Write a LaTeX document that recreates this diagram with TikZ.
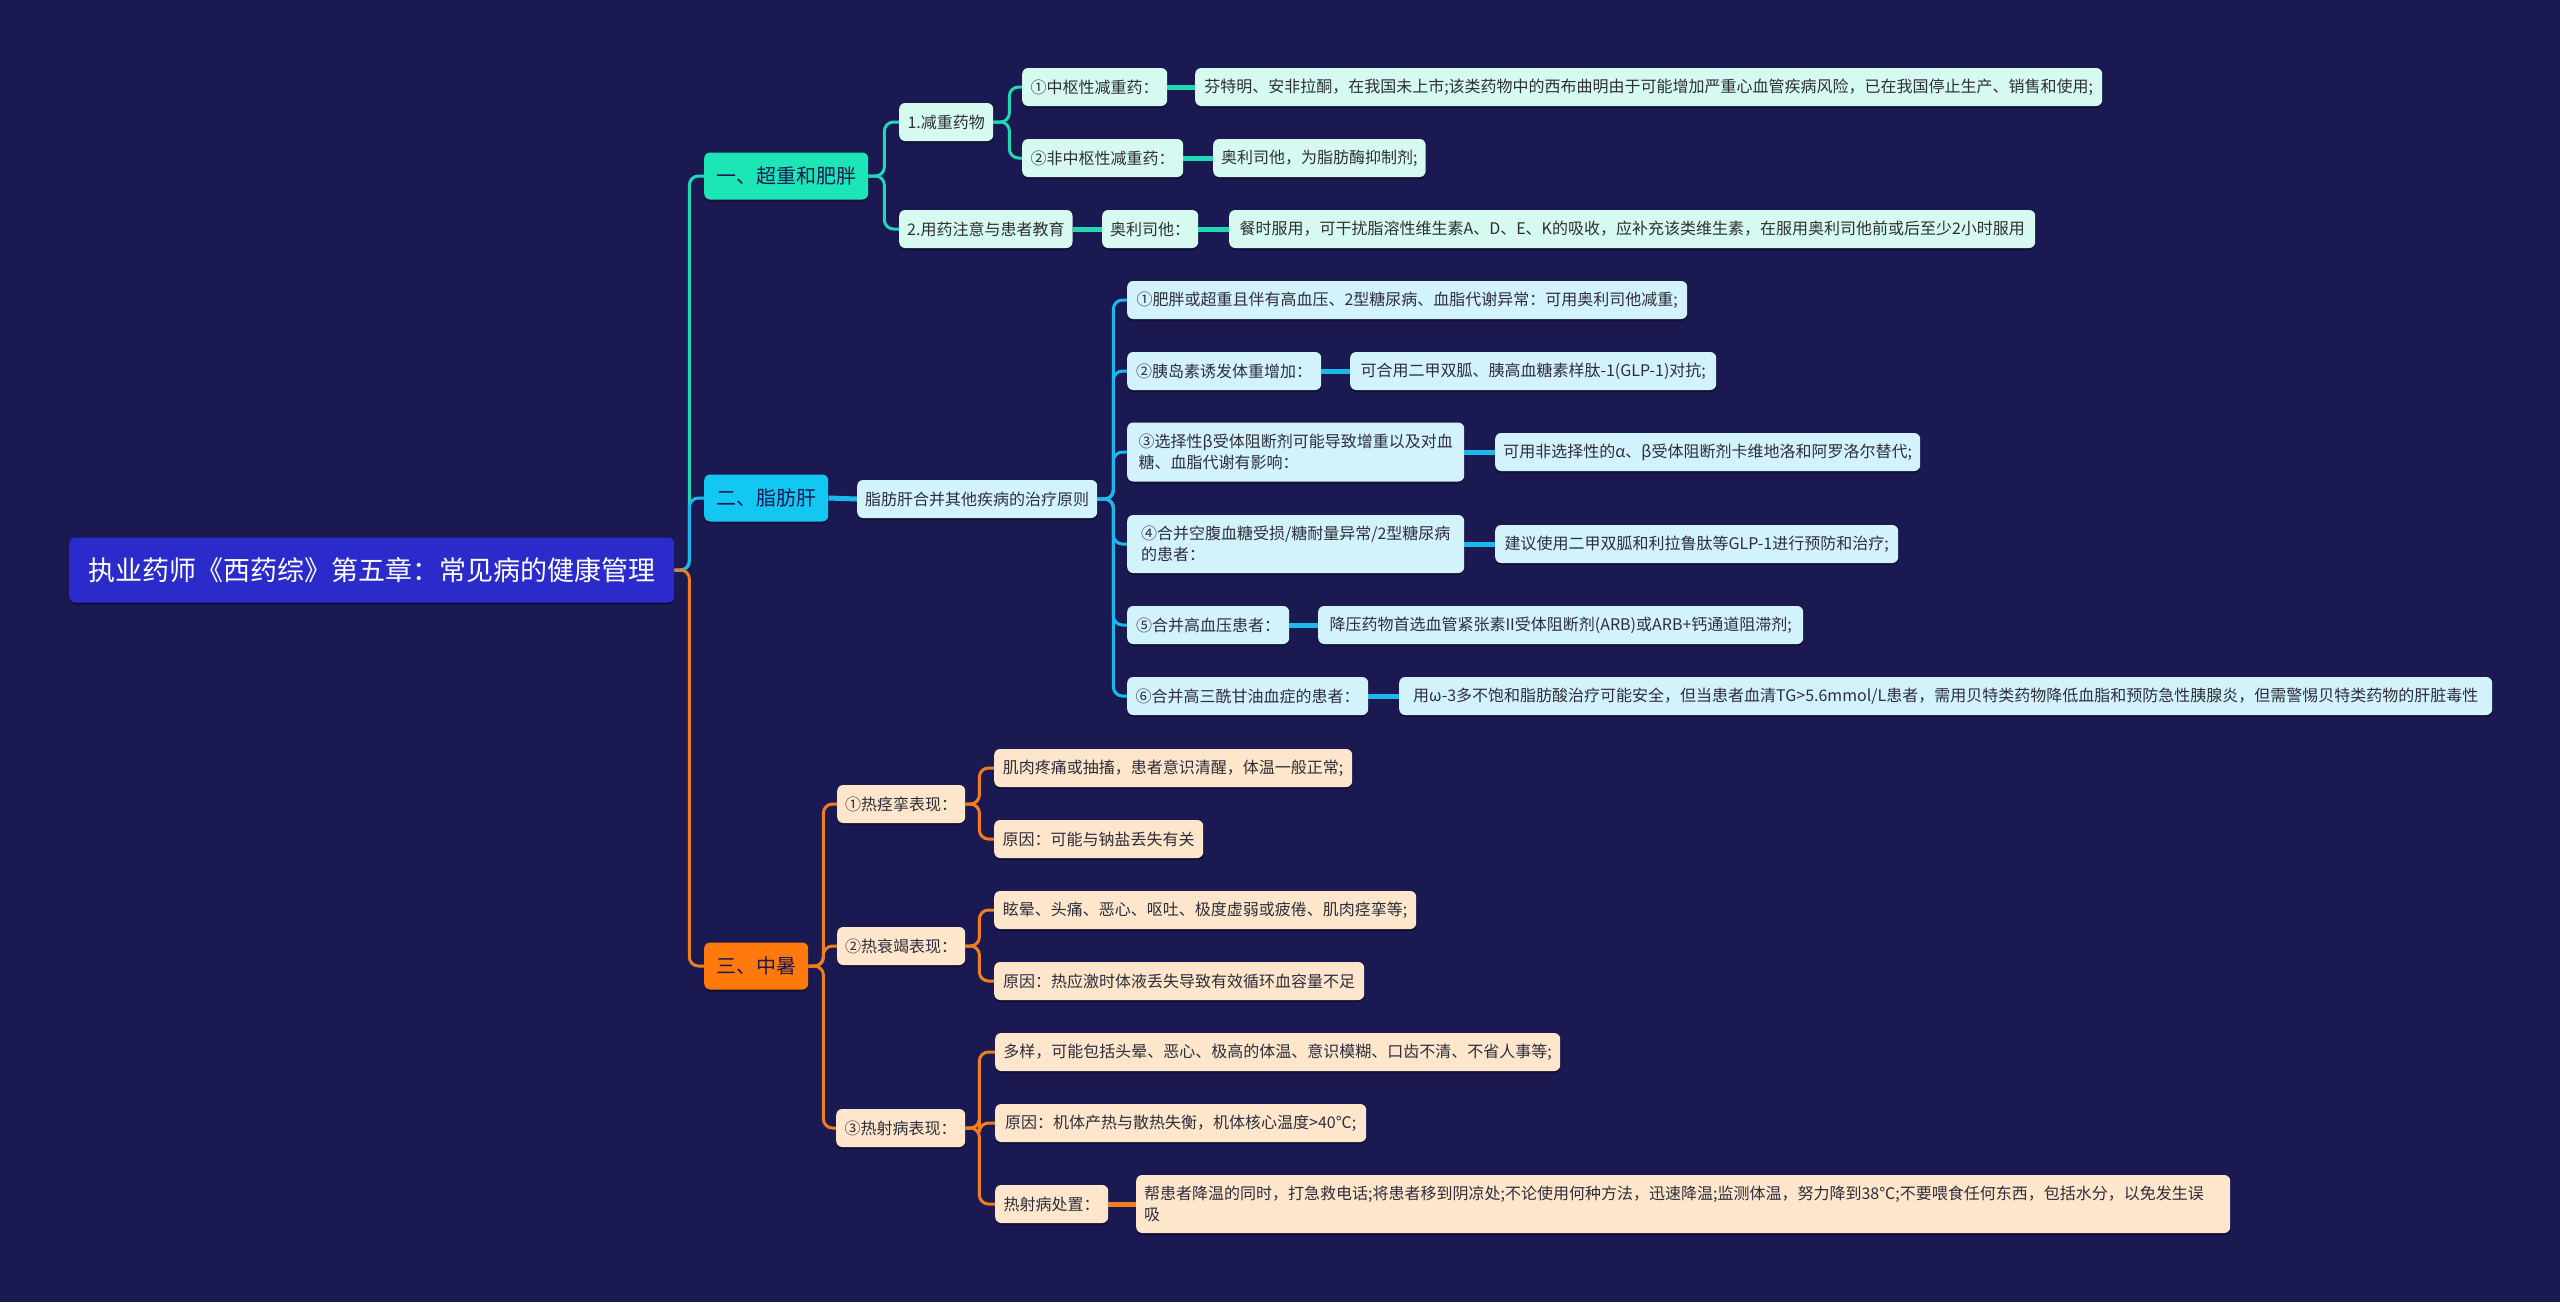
\documentclass[tikz,border=0pt]{standalone}
\usepackage{fontspec}
\setmainfont{Noto Sans CJK SC}
\usetikzlibrary{shadows}
\pgfdeclarelayer{bgl}
\pgfdeclarelayer{lines}
\pgfsetlayers{bgl,lines,main}
\definecolor{bg}{HTML}{1A1952}
\definecolor{rootc}{HTML}{2B2BCB}
\definecolor{tealc}{HTML}{1DE6B6}
\definecolor{tealln}{HTML}{22D8B4}
\definecolor{tealleaf}{HTML}{D6FAF0}
\definecolor{cyanc}{HTML}{12C7F2}
\definecolor{cyanln}{HTML}{1BB8EC}
\definecolor{cyanleaf}{HTML}{D3F3FC}
\definecolor{orc}{HTML}{FF7A0C}
\definecolor{orln}{HTML}{F07D1E}
\definecolor{orleaf}{HTML}{FDE6CC}
\definecolor{txt}{HTML}{2E2E3A}
\tikzset{
  basebox/.style={rounded corners=6pt, inner xsep=8pt, inner ysep=0pt, anchor=west,
    general shadow={fill=black, opacity=0.35, shadow yshift=-2pt}},
  rootbox/.style={basebox, fill=rootc, text=white, minimum height=65pt, font=\fontsize{27}{32}\selectfont},
  mainbox/.style={basebox, minimum height=47pt, font=\fontsize{20}{24}\selectfont},
  leaf/.style={basebox, minimum height=38pt, text=txt, align=left, font=\fontsize{16}{21}\selectfont},
  leafA/.style={leaf, fill=tealleaf},
  leafB/.style={leaf, fill=cyanleaf},
  leafC/.style={leaf, fill=orleaf},
  ln/.style={line width=3pt, rounded corners=9pt},
  lnA/.style={ln, draw=tealln},
  lnB/.style={ln, draw=cyanln},
  lnC/.style={ln, draw=orln},
  lnAs/.style={lnA, line width=5pt},
  lnBs/.style={lnB, line width=5pt},
  lnCs/.style={lnC, line width=5pt},
}
\begin{document}
\begin{tikzpicture}[x=1pt,y=-1pt]
\begin{pgfonlayer}{bgl}
\fill[bg] (0,0) rectangle (2560,1302);
\end{pgfonlayer}
\useasboundingbox (0,0) rectangle (2560,1302);

% root and main topics
\node[rootbox, minimum width=605pt] (root) at (69,570) {执业药师《西药综》第五章：常见病的健康管理};
\node[mainbox, fill=tealc, text=bg, minimum width=164pt] (A) at (704,176) {一、超重和肥胖};
\node[mainbox, fill=cyanc, text=bg, minimum width=124pt] (B) at (704,498) {二、脂肪肝};
\node[mainbox, fill=orc, text=bg, minimum width=104pt] (C) at (704,966) {三、中暑};

% branch A
\node[leafA, minimum width=94pt] (a1) at (899,122) {1.减重药物};
\node[leafA, minimum width=173pt] (a2) at (899,229) {2.用药注意与患者教育};
\node[leafA, minimum width=145pt] (a11) at (1022,87) {①中枢性减重药：};
\node[leafA, minimum width=161pt] (a12) at (1022,158) {②非中枢性减重药：};
\node[leafA, minimum width=96pt] (a21) at (1102,229) {奥利司他：};
\node[leafA, minimum width=907pt] (a111) at (1195,87) {芬特明、安非拉酮，在我国未上市;该类药物中的西布曲明由于可能增加严重心血管疾病风险，已在我国停止生产、销售和使用;};
\node[leafA, minimum width=212pt] (a121) at (1213,158) {奥利司他，为脂肪酶抑制剂;};
\node[leafA, minimum width=806pt] (a211) at (1229,229) {餐时服用，可干扰脂溶性维生素A、D、E、K的吸收，应补充该类维生素，在服用奥利司他前或后至少2小时服用};

% branch B
\node[leafB, minimum width=240pt] (b1) at (857,499) {脂肪肝合并其他疾病的治疗原则};
\node[leafB, minimum width=560pt] (b11) at (1127,300) {①肥胖或超重且伴有高血压、2型糖尿病、血脂代谢异常：可用奥利司他减重;};
\node[leafB, minimum width=194pt] (b12) at (1127,371) {②胰岛素诱发体重增加：};
\node[leafB, minimum width=366pt] (b121) at (1350,371) {可合用二甲双胍、胰高血糖素样肽-1(GLP-1)对抗;};
\node[leafB, minimum width=337pt, minimum height=59pt] (b13) at (1127,452) {③选择性β受体阻断剂可能导致增重以及对血\\糖、血脂代谢有影响：};
\node[leafB, minimum width=425pt] (b131) at (1495,452) {可用非选择性的α、β受体阻断剂卡维地洛和阿罗洛尔替代;};
\node[leafB, minimum width=337pt, minimum height=58pt] (b14) at (1127,544) {④合并空腹血糖受损/糖耐量异常/2型糖尿病\\的患者：};
\node[leafB, minimum width=403pt] (b141) at (1495,544) {建议使用二甲双胍和利拉鲁肽等GLP-1进行预防和治疗;};
\node[leafB, minimum width=162pt] (b15) at (1127,625) {⑤合并高血压患者：};
\node[leafB, minimum width=485pt] (b151) at (1318,625) {降压药物首选血管紧张素II受体阻断剂(ARB)或ARB+钙通道阻滞剂;};
\node[leafB, minimum width=241pt] (b16) at (1127,696) {⑥合并高三酰甘油血症的患者：};
\node[leafB, minimum width=1093pt] (b161) at (1399,696) {用ω-3多不饱和脂肪酸治疗可能安全，但当患者血清TG>5.6mmol/L患者，需用贝特类药物降低血脂和预防急性胰腺炎，但需警惕贝特类药物的肝脏毒性};

% branch C
\node[leafC, minimum width=128pt] (c1) at (837,804) {①热痉挛表现：};
\node[leafC, minimum width=358pt] (c11) at (994,768) {肌肉疼痛或抽搐，患者意识清醒，体温一般正常;};
\node[leafC, minimum width=209pt] (c12) at (994,839) {原因：可能与钠盐丢失有关};
\node[leafC, minimum width=128pt] (c2) at (837,946) {②热衰竭表现：};
\node[leafC, minimum width=422pt] (c21) at (994,910) {眩晕、头痛、恶心、呕吐、极度虚弱或疲倦、肌肉痉挛等;};
\node[leafC, minimum width=370pt] (c22) at (994,981) {原因：热应激时体液丢失导致有效循环血容量不足};
\node[leafC, minimum width=129pt] (c3) at (836,1128) {③热射病表现：};
\node[leafC, minimum width=565pt] (c31) at (995,1052) {多样，可能包括头晕、恶心、极高的体温、意识模糊、口齿不清、不省人事等;};
\node[leafC, minimum width=371pt] (c32) at (995,1123) {原因：机体产热与散热失衡，机体核心温度>40℃;};
\node[leafC, minimum width=113pt] (c33) at (995,1204) {热射病处置：};
\node[leafC, text width=1078pt, minimum height=58pt] (c331) at (1136,1204) {帮患者降温的同时，打急救电话;将患者移到阴凉处;不论使用何种方法，迅速降温;监测体温，努力降到38℃;不要喂食任何东西，包括水分，以免发生误\\吸};

% connectors (behind nodes)
\begin{pgfonlayer}{lines}
\draw[lnA] (root.east) -- ([xshift=15pt]root.east) |- (A.west);
\draw[lnB] (root.east) -- ([xshift=15pt]root.east) |- (B.west);
\draw[lnC] (root.east) -- ([xshift=15pt]root.east) |- (C.west);
% A
\draw[lnA] (A.east) -- ([xshift=16pt]A.east) |- (a1.west);
\draw[lnA] (A.east) -- ([xshift=16pt]A.east) |- (a2.west);
\draw[lnA] (a1.east) -- ([xshift=16pt]a1.east) |- (a11.west);
\draw[lnA] (a1.east) -- ([xshift=16pt]a1.east) |- (a12.west);
\draw[lnAs] (a2.east) -- (a21.west);
\draw[lnAs] (a11.east) -- (a111.west);
\draw[lnAs] (a12.east) -- (a121.west);
\draw[lnAs] (a21.east) -- (a211.west);
% B
\draw[lnBs] (B.east) -- (b1.west);
\foreach \k in {b11,b12,b13,b14,b15,b16}
  \draw[lnB] (b1.east) -- ([xshift=16pt]b1.east) |- (\k.west);
\draw[lnBs] (b12.east) -- (b121.west);
\draw[lnBs] (b13.east) -- (b131.west);
\draw[lnBs] (b14.east) -- (b141.west);
\draw[lnBs] (b15.east) -- (b151.west);
\draw[lnBs] (b16.east) -- (b161.west);
% C
\foreach \k in {c1,c2,c3}
  \draw[lnC] (C.east) -- ([xshift=15pt]C.east) |- (\k.west);
\foreach \k in {c11,c12}
  \draw[lnC] (c1.east) -- ([xshift=14pt]c1.east) |- (\k.west);
\foreach \k in {c21,c22}
  \draw[lnC] (c2.east) -- ([xshift=14pt]c2.east) |- (\k.west);
\foreach \k in {c31,c32,c33}
  \draw[lnC] (c3.east) -- ([xshift=14pt]c3.east) |- (\k.west);
\draw[lnCs] (c33.east) -- (c331.west);
\end{pgfonlayer}
\end{tikzpicture}
\end{document}
